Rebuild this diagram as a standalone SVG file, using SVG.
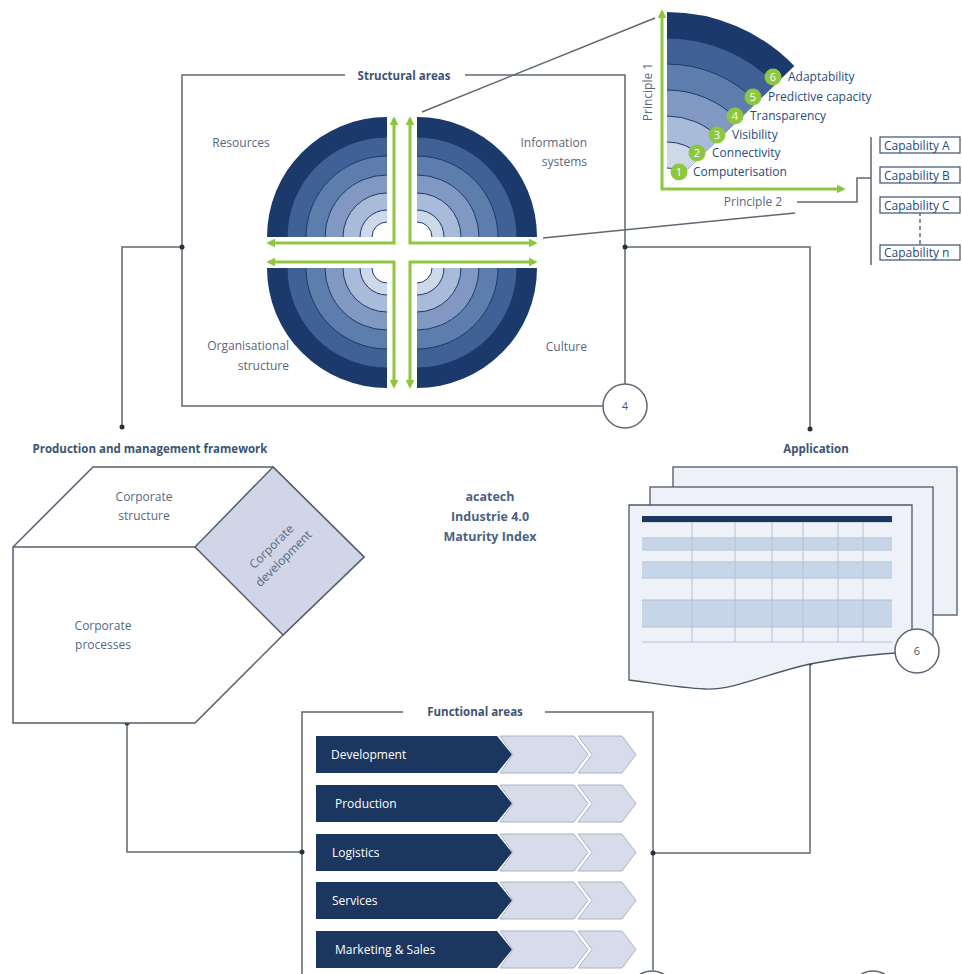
<svg xmlns="http://www.w3.org/2000/svg" width="962" height="974" viewBox="0 0 962 974">
<defs>
<style>
.ln{fill:none;stroke:#5f6873;stroke-width:1.5}
.dot{fill:#2b3038}
.t{font-family:"Open Sans","Liberation Sans",sans-serif;font-size:12px;fill:#56687f}
.h{font-family:"Open Sans","Liberation Sans",sans-serif;font-size:11.5px;font-weight:bold;fill:#3d5372}
.c{font-family:"Open Sans","Liberation Sans",sans-serif;font-size:12.5px;font-weight:bold;fill:#4b6281}
.q{font-family:"Open Sans","Liberation Sans",sans-serif;font-size:12px;fill:#2a4a7a}
.w{font-family:"Open Sans","Liberation Sans",sans-serif;font-size:12px;fill:#ffffff}
.n{font-family:"Open Sans","Liberation Sans",sans-serif;font-size:11px;fill:#ffffff;text-anchor:middle}
.g{fill:none;stroke:#8dc63f;stroke-width:3}
.b6{fill:#1b3a6b}.b5{fill:#3f6196}.b4{fill:#5d7eac}.b3{fill:#8199c2}.b2{fill:#a8bbd8}.b1{fill:#cdd8e9}.b0{fill:#ffffff}
.arc{fill:none;stroke:#1b3a6b;stroke-width:1}
.chev{fill:#d6dce9;stroke:#aab4c6;stroke-width:1}
.nav{fill:#1b365f}
.page{fill:#eef2f8;stroke:#4d5866;stroke-width:1.3}
.cap{fill:#fff;stroke:#3d5070;stroke-width:1.2}
.gc{fill:#8dc63f}
.num{fill:#fff;stroke:#5f6873;stroke-width:1.5}
</style>
<marker id="ga" viewBox="0 0 10 10" refX="7" refY="5" markerWidth="3" markerHeight="3" orient="auto-start-reverse"><path d="M0,0 L10,5 L0,10 z" fill="#8dc63f"/></marker>
<g id="quad">
<path class="b6" d="M0,0 H-120 A120,120 0 0 1 0,-120 Z"/>
<path class="b5" d="M0,0 H-100 A100,100 0 0 1 0,-100 Z"/>
<path class="b4" d="M0,0 H-81 A81,81 0 0 1 0,-81 Z"/>
<path class="b3" d="M0,0 H-62 A62,62 0 0 1 0,-62 Z"/>
<path class="b2" d="M0,0 H-44 A44,44 0 0 1 0,-44 Z"/>
<path class="b1" d="M0,0 H-27 A27,27 0 0 1 0,-27 Z"/>
<path class="b0" d="M0,0 H-15 A15,15 0 0 1 0,-15 Z"/>
<path class="arc" d="M-100,0 A100,100 0 0 1 0,-100 M-81,0 A81,81 0 0 1 0,-81 M-62,0 A62,62 0 0 1 0,-62 M-44,0 A44,44 0 0 1 0,-44 M-27,0 A27,27 0 0 1 0,-27 M-15,0 A15,15 0 0 1 0,-15"/>
<path class="g" d="M-118,6 H7 V-118" marker-start="url(#ga)" marker-end="url(#ga)"/>
</g>
</defs>
<rect width="962" height="974" fill="#ffffff"/>

<g id="connectors">
<path class="ln" d="M345,75 H182 V406 H603 M465,75 H625 V384"/>
<path class="ln" d="M182,247 H122 V427"/>
<path class="ln" d="M625,247 H810 V429"/>
<path class="ln" d="M422,112 L655,18 M543,238 L795,213"/>
<path class="ln" d="M797,202 H857 V178 H871 M871,137 V265"/>
<path class="ln" d="M920,212 V245" stroke-dasharray="4,3"/>
<path class="ln" d="M810,663 V853 H653"/>
<path class="ln" d="M403,712 H302 V974 M545,712 H653 V970"/>
<path class="ln" d="M302,852 H127 V723"/>
<circle class="dot" cx="182" cy="247" r="2.5"/>
<circle class="dot" cx="122" cy="427" r="2.5"/>
<circle class="dot" cx="625" cy="247" r="2.5"/>
<circle class="dot" cx="810" cy="429" r="2.5"/>
<circle class="dot" cx="810" cy="663" r="2.5"/>
<circle class="dot" cx="653" cy="853" r="2.5"/>
<circle class="dot" cx="302" cy="852" r="2.5"/>
<circle class="dot" cx="127" cy="723" r="2.5"/>
</g>

<g id="structural-areas">
<text class="h" x="404" y="80" text-anchor="middle">Structural areas</text>
<use href="#quad" transform="translate(387,237)"/>
<use href="#quad" transform="translate(417,237) scale(-1,1)"/>
<use href="#quad" transform="translate(387,268) scale(1,-1)"/>
<use href="#quad" transform="translate(417,268) scale(-1,-1)"/>
<text class="t" x="241" y="147" text-anchor="middle">Resources</text>
<text class="t" x="587" y="147" text-anchor="end">Information</text>
<text class="t" x="587" y="166" text-anchor="end">systems</text>
<text class="t" x="289" y="350" text-anchor="end">Organisational</text>
<text class="t" x="289" y="370" text-anchor="end">structure</text>
<text class="t" x="587" y="351" text-anchor="end">Culture</text>
<circle class="num" cx="625" cy="406" r="22"/>
<text x="625" y="410" text-anchor="middle" font-family="Open Sans, Liberation Sans, sans-serif" font-size="11" fill="#555">4</text>
</g>

<g id="maturity-stages">
<path class="b6" d="M667,189 V12 A177,177 0 0 1 794.3,66 Z"/>
<path class="b5" d="M667,189 V38 A151,151 0 0 1 775.6,84.1 Z"/>
<path class="b4" d="M667,189 V64 A125,125 0 0 1 756.9,102.2 Z"/>
<path class="b3" d="M667,189 V90 A99,99 0 0 1 738.2,120.2 Z"/>
<path class="b2" d="M667,189 V116 A73,73 0 0 1 719.5,138.3 Z"/>
<path class="b1" d="M667,189 V142 A47,47 0 0 1 700.8,156.3 Z"/>
<path class="b0" d="M667,189 V168 A21,21 0 0 1 682.1,174.4 Z"/>
<path class="arc" d="M667,38 A151,151 0 0 1 775.6,84.1 M667,64 A125,125 0 0 1 756.9,102.2 M667,90 A99,99 0 0 1 738.2,120.2 M667,116 A73,73 0 0 1 719.5,138.3 M667,142 A47,47 0 0 1 700.8,156.3 M667,168 A21,21 0 0 1 682.1,174.4"/>
<path class="g" d="M662,12 V189 H843" marker-start="url(#ga)" marker-end="url(#ga)"/>
<text class="t" transform="translate(652,92) rotate(-90)" text-anchor="middle">Principle 1</text>
<text class="t" x="753" y="206" text-anchor="middle">Principle 2</text>
<circle class="gc" cx="773" cy="77" r="8.5"/><text class="n" x="773" y="81">6</text>
<text class="q" x="788" y="81">Adaptability</text>
<circle class="gc" cx="753" cy="97" r="8.5"/><text class="n" x="753" y="101">5</text>
<text class="q" x="768" y="101">Predictive capacity</text>
<circle class="gc" cx="735" cy="116" r="8.5"/><text class="n" x="735" y="120">4</text>
<text class="q" x="750" y="120">Transparency</text>
<circle class="gc" cx="717" cy="135" r="8.5"/><text class="n" x="717" y="139">3</text>
<text class="q" x="732" y="139">Visibility</text>
<circle class="gc" cx="697" cy="153" r="8.5"/><text class="n" x="697" y="157">2</text>
<text class="q" x="712" y="157">Connectivity</text>
<circle class="gc" cx="679" cy="172" r="8.5"/><text class="n" x="679" y="176">1</text>
<text class="q" x="693" y="176">Computerisation</text>
</g>

<g id="capabilities">
<rect class="cap" x="880" y="137" width="80" height="16"/>
<text class="q" x="884" y="149.5">Capability A</text>
<rect class="cap" x="880" y="167" width="80" height="16"/>
<text class="q" x="884" y="179.5">Capability B</text>
<rect class="cap" x="880" y="197" width="80" height="16"/>
<text class="q" x="884" y="209.5">Capability C</text>
<rect class="cap" x="880" y="245" width="80" height="15"/>
<text class="q" x="884" y="257">Capability n</text>
</g>

<g id="production-framework">
<text class="h" x="150" y="453" text-anchor="middle">Production and management framework</text>
<path d="M93,467 H273 L364,557 L283,635 L195,723 H13 V547 Z" fill="#ffffff" stroke="#555e6a" stroke-width="1.5"/>
<path d="M195,547 L273,467 L364,557 L283,635 Z" fill="#d0d6e8" stroke="#555e6a" stroke-width="1.5"/>
<path d="M13,547 H195" fill="none" stroke="#555e6a" stroke-width="1.5"/>
<text class="t" x="144" y="501" text-anchor="middle">Corporate</text>
<text class="t" x="144" y="520" text-anchor="middle">structure</text>
<text class="t" x="103" y="630" text-anchor="middle">Corporate</text>
<text class="t" x="103" y="649" text-anchor="middle">processes</text>
<g transform="rotate(-45,278,553)">
<text class="t" x="278" y="548" text-anchor="middle">Corporate</text>
<text class="t" x="278" y="565" text-anchor="middle">development</text>
</g>
</g>

<g id="title">
<text class="c" x="490" y="501" text-anchor="middle">acatech</text>
<text class="c" x="490" y="521" text-anchor="middle">Industrie 4.0</text>
<text class="c" x="490" y="541" text-anchor="middle">Maturity Index</text>
</g>

<g id="application">
<text class="h" x="816" y="453" text-anchor="middle">Application</text>
<rect class="page" x="673" y="467" width="284" height="148"/>
<rect class="page" x="650" y="487" width="283" height="152"/>
<path class="page" d="M629,505 H912 V652 C870,654 835,659 810,664 C765,674 735,690 705,689 C680,688 652,683 629,680 Z"/>
<rect x="642" y="538" width="250" height="12" fill="#c7d5e8"/>
<rect x="642" y="562" width="250" height="16" fill="#c7d5e8"/>
<rect x="642" y="600" width="250" height="27" fill="#c7d5e8"/>
<path d="M642,522 H892 M642,538 H892 M642,550 H892 M642,562 H892 M642,578 H892 M642,600 H892 M642,627 H892 M642,642 H892 M692,522 V642 M735,522 V642 M772,522 V642 M803,522 V642 M838,522 V642 M863,522 V642" fill="none" stroke="#b3c1d3" stroke-width="1"/>
<rect class="nav" x="642" y="516" width="250" height="6"/>
<circle class="num" cx="917" cy="651" r="22"/>
<text x="917" y="655" text-anchor="middle" font-family="Open Sans, Liberation Sans, sans-serif" font-size="11" fill="#555">6</text>
</g>

<g id="functional-areas">
<text class="h" x="475" y="716" text-anchor="middle">Functional areas</text>
<path class="nav" d="M316,736 H497 L512,754.5 L497,773 H316 Z"/>
<path class="chev" d="M500,736 H574 L588,754.5 L574,773 H500 L513,754.5 Z"/>
<path class="chev" d="M578,736 H622 L636,754.5 L622,773 H578 L592,754.5 Z"/>
<text class="w" x="331" y="759">Development</text>
<path class="nav" d="M316,785 H497 L512,803.5 L497,822 H316 Z"/>
<path class="chev" d="M500,785 H574 L588,803.5 L574,822 H500 L513,803.5 Z"/>
<path class="chev" d="M578,785 H622 L636,803.5 L622,822 H578 L592,803.5 Z"/>
<text class="w" x="335" y="808">Production</text>
<path class="nav" d="M316,834 H497 L512,852.5 L497,871 H316 Z"/>
<path class="chev" d="M500,834 H574 L588,852.5 L574,871 H500 L513,852.5 Z"/>
<path class="chev" d="M578,834 H622 L636,852.5 L622,871 H578 L592,852.5 Z"/>
<text class="w" x="332" y="857">Logistics</text>
<path class="nav" d="M316,882 H497 L512,900.5 L497,919 H316 Z"/>
<path class="chev" d="M500,882 H574 L588,900.5 L574,919 H500 L513,900.5 Z"/>
<path class="chev" d="M578,882 H622 L636,900.5 L622,919 H578 L592,900.5 Z"/>
<text class="w" x="332" y="905">Services</text>
<path class="nav" d="M316,931 H497 L512,949.5 L497,968 H316 Z"/>
<path class="chev" d="M500,931 H574 L588,949.5 L574,968 H500 L513,949.5 Z"/>
<path class="chev" d="M578,931 H622 L636,949.5 L622,968 H578 L592,949.5 Z"/>
<text class="w" x="335" y="954">Marketing &amp; Sales</text>
</g>

<g id="bottom-markers">
<circle class="num" cx="652" cy="993" r="22"/>
<circle class="num" cx="873" cy="993" r="22"/>
</g>
</svg>
